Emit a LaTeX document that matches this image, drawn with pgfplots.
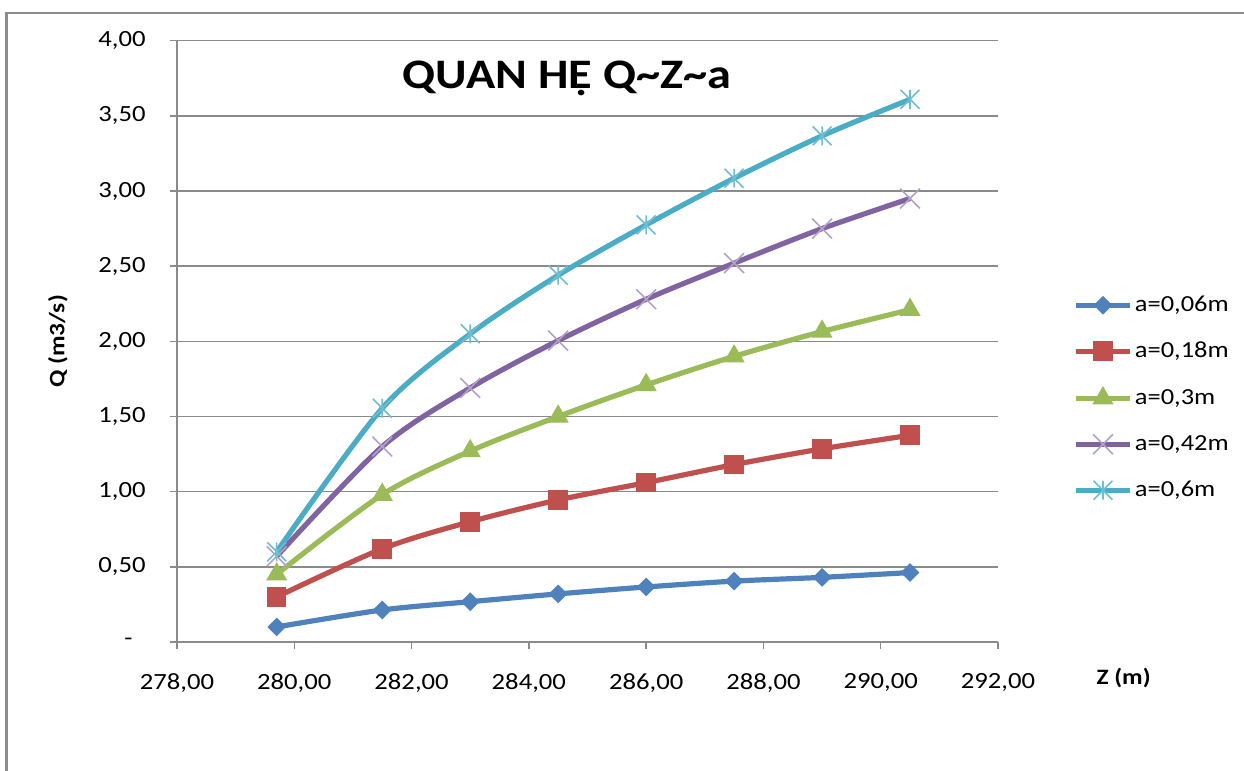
\documentclass[border=0pt]{standalone}
\usepackage{fontspec}
\setmainfont{Carlito}[FakeStretch=1.15]
\usepackage{pgfplots}
\pgfplotsset{compat=1.18}

\definecolor{sblue}{HTML}{4F81BD}
\definecolor{sred}{HTML}{C0504D}
\definecolor{sgreen}{HTML}{9BBB59}
\definecolor{spurple}{HTML}{8064A2}
\definecolor{scyan}{HTML}{4BACC6}
\definecolor{gridgray}{HTML}{8A8A8A}
\definecolor{framegray}{HTML}{8C8C8C}

% Excel style star: an x with a vertical stroke
\pgfdeclareplotmark{xstar}{%
  \pgfpathmoveto{\pgfqpoint{-.7071\pgfplotmarksize}{-.7071\pgfplotmarksize}}%
  \pgfpathlineto{\pgfqpoint{.7071\pgfplotmarksize}{.7071\pgfplotmarksize}}%
  \pgfpathmoveto{\pgfqpoint{-.7071\pgfplotmarksize}{.7071\pgfplotmarksize}}%
  \pgfpathlineto{\pgfqpoint{.7071\pgfplotmarksize}{-.7071\pgfplotmarksize}}%
  \pgfpathmoveto{\pgfqpoint{0pt}{-.7071\pgfplotmarksize}}%
  \pgfpathlineto{\pgfqpoint{0pt}{.7071\pgfplotmarksize}}%
  \pgfusepathqstroke
}

\begin{document}
\begin{tikzpicture}
\useasboundingbox (0,0) rectangle (622pt,385.5pt);
\clip (0,0) rectangle (622pt,385.5pt);
\draw[framegray, line width=1.2pt] (3.2pt,-20pt) -- (3.2pt,379pt) -- (650pt,379pt);
\begin{axis}[
    at={(88.5pt,64.5pt)}, anchor=south west,
    width=410.5pt, height=300.65pt, scale only axis,
    xmin=278, xmax=292, ymin=0, ymax=4,
    axis x line*=bottom, axis y line*=left,
    axis line style={gridgray, line width=0.75pt},
    every tick/.style={gridgray, line width=0.75pt},
    tick align=outside, major tick length=3.5pt,
    ymajorgrids,
    major grid style={gridgray, line width=0.75pt},
    xtick={278,280,...,292},
    xticklabels={{278,00},{280,00},{282,00},{284,00},{286,00},{288,00},{290,00},{292,00}},
    ytick={0,0.5,...,4},
    yticklabels={{-\kern6.5pt},{0,50},{1,00},{1,50},{2,00},{2,50},{3,00},{3,50},{4,00}},
    tick label style={font=\fontsize{11.6}{13}\selectfont, inner sep=0pt},
    yticklabel style={anchor=east, xshift=-12pt},
    xticklabel style={anchor=north, yshift=-12pt},
    ylabel={Q (m3/s)},
    ylabel style={font=\fontsize{11}{13}\selectfont\bfseries,
        at={(axis description cs:-0.145,0.5)}, anchor=center},
    xlabel={Z (m)},
    xlabel style={font=\fontsize{11}{13}\selectfont\bfseries,
        at={(axis description cs:1.153,-0.06)}, anchor=center},
    legend style={draw=none, fill=none,
        at={(axis description cs:1.084,0.584)}, anchor=north west,
        font=\fontsize{11.5}{13}\selectfont,
        nodes={inner xsep=1.2pt, inner ysep=0pt, text height=8pt, text depth=2pt},
        row sep=13pt},
    legend cell align=left,
    legend image code/.code={%
        \draw[mark repeat=2,mark phase=2] plot coordinates {(0pt,0pt) (13.5pt,0pt) (27pt,0pt)};},
    every axis plot/.append style={smooth, line width=2.6pt},
]
\addplot[sblue, mark=square*, mark size=3pt,
    mark options={solid, rotate=45, line width=0.6pt, fill=sblue}]
    coordinates {(279.7,0.10) (281.5,0.213) (283,0.268) (284.5,0.32)
                 (286,0.366) (287.5,0.405) (289,0.43) (290.5,0.462)};
\addlegendentry{a=0,06m}

\addplot[sred, mark=square*, mark size=4.6pt,
    mark options={solid, line width=0.6pt, fill=sred}]
    coordinates {(279.7,0.30) (281.5,0.62) (283,0.80) (284.5,0.945)
                 (286,1.06) (287.5,1.18) (289,1.285) (290.5,1.375)};
\addlegendentry{a=0,18m}

\addplot[sgreen, mark=triangle*, mark size=5.5pt,
    mark options={solid, line width=0.6pt, fill=sgreen}]
    coordinates {(279.7,0.45) (281.5,0.98) (283,1.27) (284.5,1.50)
                 (286,1.71) (287.5,1.90) (289,2.065) (290.5,2.21)};
\addlegendentry{a=0,3m}

\addplot[spurple, mark=x, mark size=7pt,
    mark options={solid, line width=0.8pt, draw=spurple!60}]
    coordinates {(279.7,0.57) (281.5,1.30) (283,1.69) (284.5,2.005)
                 (286,2.28) (287.5,2.52) (289,2.75) (290.5,2.95)};
\addlegendentry{a=0,42m}

\addplot[scyan, mark=xstar, mark size=6.7pt,
    mark options={solid, line width=0.8pt, draw=scyan!80}]
    coordinates {(279.7,0.60) (281.5,1.555) (283,2.05) (284.5,2.44)
                 (286,2.775) (287.5,3.085) (289,3.367) (290.5,3.61)};
\addlegendentry{a=0,6m}

\node[font=\fontsize{21}{25}\selectfont\bfseries, anchor=base]
    at (rel axis cs:0.475,0.92) {QUAN HỆ Q\textasciitilde Z\textasciitilde a};
\end{axis}
\end{tikzpicture}
\end{document}
